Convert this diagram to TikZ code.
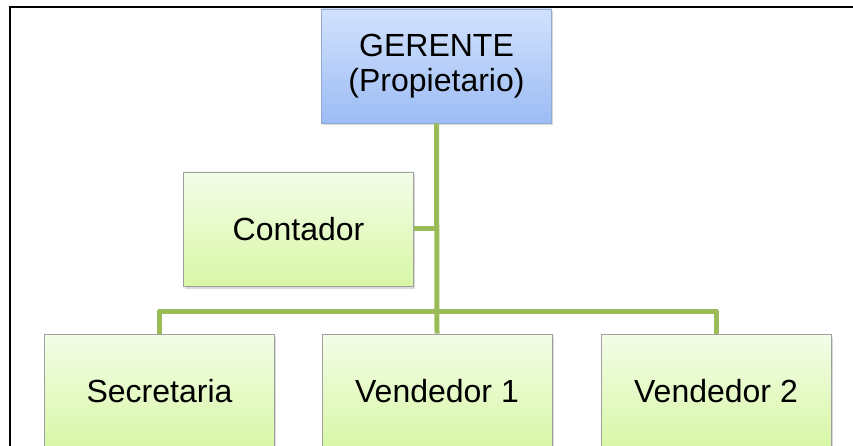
\documentclass[tikz,border=0pt]{standalone}
\usepackage{fontspec}
\setmainfont{Liberation Sans}
\usetikzlibrary{shadows,calc}

\definecolor{linegreen}{HTML}{9BBB59}
\definecolor{boxgreenA}{HTML}{F3FDE8}
\definecolor{boxgreenB}{HTML}{D8F7A6}
\definecolor{boxblueA}{HTML}{D2E2FD}
\definecolor{boxblueB}{HTML}{9CBCF4}

\tikzset{
  cargo/.style={minimum width=230pt, minimum height=114pt, inner sep=0pt,
    draw=gray!75, line width=0.8pt, align=center,
    font=\fontsize{32}{35}\selectfont,
    top color=boxgreenA, bottom color=boxgreenB,
    drop shadow={shadow xshift=1.5pt, shadow yshift=-2.5pt, opacity=0.3}},
  jefe/.style={cargo, draw=boxblueB!70!gray, top color=boxblueA, bottom color=boxblueB},
  enlace/.style={draw=linegreen, line width=5pt, line join=round}
}

\begin{document}
\begin{tikzpicture}[x=1pt,y=-1pt]
	\useasboundingbox (0,0) rectangle (853,446);
	%MARCO
	\draw[line width=1.3pt] (10,446) -- (10,7) -- (853,7);

	%CARGOS
	\node[jefe] (ger) at (436.5,66) {GERENTE\\(Propietario)};
	\node[cargo] (cont) at (298.5,229) {Contador};
	\node[cargo] (sec) at (159.5,391) {Secretaria};
	\node[cargo] (ven1) at (437,391) {Vendedor 1};
	\node[cargo] (ven2) at (716,391) {Vendedor 2};

	%ENLACES
	\coordinate (bus) at (437,311);
	\draw[enlace] (ger.south) -- (ven1.north);
	\draw[enlace] (cont.east) -- (cont.east -| ger.south);
	\draw[enlace] (sec.north) |- (bus) -| (ven2.north);
\end{tikzpicture}
\end{document}
